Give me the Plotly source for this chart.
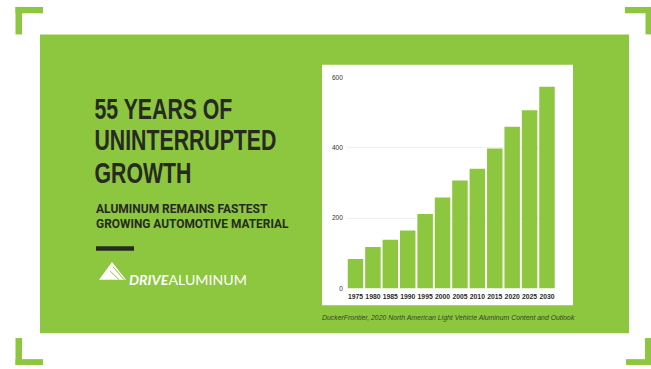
import plotly.graph_objects as go

# ---- data ----
years = ["1975", "1980", "1985", "1990", "1995", "2000", "2005", "2010",
         "2015", "2020", "2025", "2030"]
aluminum_lbs = [84, 118, 139, 165, 212, 259, 307, 341, 398, 460, 507, 574]
y_ticks = [0, 200, 400, 600]

title_lines = ["55 YEARS OF", "UNINTERRUPTED", "GROWTH"]
subtitle_lines = ["ALUMINUM REMAINS FASTEST", "GROWING AUTOMOTIVE MATERIAL"]
source_text = "DuckerFrontier, 2020 North American Light Vehicle Aluminum Content and Outlook"

W, H = 651, 369
GREEN = "#8DC63F"
DARK = "#262a22"


def px(x):
    return x / W


def py(y):
    return 1 - y / H


def rect(x0, y0, x1, y1, color, layer="below"):
    return dict(type="rect", xref="paper", yref="paper",
                x0=px(x0), x1=px(x1), y0=py(y1), y1=py(y0),
                fillcolor=color, line=dict(width=0), layer=layer)


shapes = [
    rect(40, 31, 629, 335.5, GREEN),
    rect(322, 62, 573, 307, "white"),
    # corner brackets
    rect(15.5, 3, 43, 9.5, GREEN), rect(15.5, 3, 22, 31, GREEN),
    rect(625, 3, 651, 9.5, GREEN), rect(645.5, 3, 651, 31, GREEN),
    rect(15.5, 362, 43, 368, GREEN), rect(15.5, 340.5, 22, 368, GREEN),
    rect(626, 362, 651, 368, GREEN), rect(645, 340.5, 651, 368, GREEN),
    # dash
    rect(96, 247, 134, 251.5, DARK, "above"),
]

# logo triangle
tri = f"M {px(112)},{py(263)} L {px(126)},{py(281)} L {px(99)},{py(281)} Z"
shapes.append(dict(type="path", xref="paper", yref="paper", path=tri,
                   fillcolor="white", line=dict(width=0), layer="above"))
for (ax, ay, bx, by) in [(110, 272, 119, 281), (113, 268, 124, 281)]:
    shapes.append(dict(type="line", xref="paper", yref="paper",
                       x0=px(ax), y0=py(ay), x1=px(bx), y1=py(by),
                       line=dict(color=GREEN, width=1), layer="above"))

fig = go.Figure(go.Bar(x=years, y=aluminum_lbs, marker=dict(color=GREEN, line=dict(width=0)),
                       hoverinfo="skip"))

TITLE_FONT = "Liberation Sans, Arial, sans-serif"
SUB_FONT = "Roboto, Liberation Sans, sans-serif"
annotations = [dict(text="<b>" + "<br>".join(title_lines) + "</b>", xref="paper", yref="paper",
                    x=px(93), y=py(140), xanchor="left", yanchor="middle", align="left",
                    showarrow=False,
                    font=dict(family=TITLE_FONT, size=30, color=DARK))]
for txt, yc in zip(subtitle_lines, [209, 224.5]):
    annotations.append(dict(text=f"<b>{txt}</b>", xref="paper", yref="paper",
                            x=px(93.5), y=py(yc), xanchor="left", yanchor="middle",
                            showarrow=False,
                            font=dict(family=SUB_FONT, size=12, color=DARK)))
annotations.append(dict(text="<b><i>DRIVE</i></b>ALUMINUM", xref="paper", yref="paper",
                        x=px(126.5), y=py(282), xanchor="left", yanchor="middle",
                        showarrow=False,
                        font=dict(family="Lato, Arial, sans-serif", size=12.5, color="white")))
annotations.append(dict(text=f"<i>{source_text}</i>", xref="paper", yref="paper",
                        x=px(448.5), y=py(320.5), xanchor="center", yanchor="middle",
                        showarrow=False,
                        font=dict(family="Liberation Sans, Arial, sans-serif", size=6.9,
                                  color="#33461f")))

fig.update_layout(
    width=W, height=H, margin=dict(l=0, r=0, t=0, b=0),
    paper_bgcolor="white", plot_bgcolor="rgba(0,0,0,0)",
    showlegend=False, bargap=0.11,
    shapes=shapes, annotations=annotations,
    xaxis=dict(domain=[px(346.8), px(555.7)], type="category",
               showgrid=False, zeroline=False, showline=False, ticks="",
               tickangle=0,
               tickfont=dict(family="Liberation Sans, Arial, sans-serif", size=6.8,
                             color="#2a2a2a", weight="bold"),
               ticklabelstandoff=3),
    yaxis=dict(domain=[py(290), py(75)], range=[0, 600], tickvals=y_ticks,
               showgrid=True, gridcolor="#f1f1f1", gridwidth=1,
               zeroline=False, showline=False, ticks="",
               tickfont=dict(family="Liberation Sans, Arial, sans-serif", size=6.5,
                             color="#333333"),
               ticklabelstandoff=3),
)

# page tweaks: no body margin; condensed, tightly leaded headline like the poster
post_script = """
document.body.style.margin = '0';
document.body.style.overflow = 'hidden';
function annText(i) {
  var g = document.querySelector('g.annotation[data-index="' + i + '"]');
  return g ? g.querySelector('text.annotation-text') : null;
}
// headline block
(function () {
  var t = annText(0);
  if (!t) return;
  var sy = 29.5 / 30;
  var offs = [0, 31.5, 64];
  t.querySelectorAll('tspan.line').forEach(function (l, k) {
    l.setAttribute('dy', offs[k] / sy);
  });
  var r = t.getBoundingClientRect();
  if (!r.width) return;
  var sx = 182 / r.width;
  var dx = 94.5 - r.left;
  var dy = (98 - 0.189 * 30 * sy) - r.top;
  t.style.transformBox = 'fill-box';
  t.style.transformOrigin = '0 0';
  t.style.transform = 'translate(' + dx + 'px,' + dy + 'px) scale(' + sx + ',' + sy + ')';
})();
// single-line texts: horizontal fit
var targets = {'1': 172, '2': 193, '3': 118};
Object.keys(targets).forEach(function (i) {
  var t = annText(i);
  if (!t) return;
  var w = t.getBBox().width;
  if (!w) return;
  t.style.transformBox = 'fill-box';
  t.style.transformOrigin = '0% 50%';
  t.style.transform = 'scaleX(' + (targets[i] / w) + ')';
});
"""

fig.write_html("out.html", post_script=post_script, config={"displayModeBar": False})
